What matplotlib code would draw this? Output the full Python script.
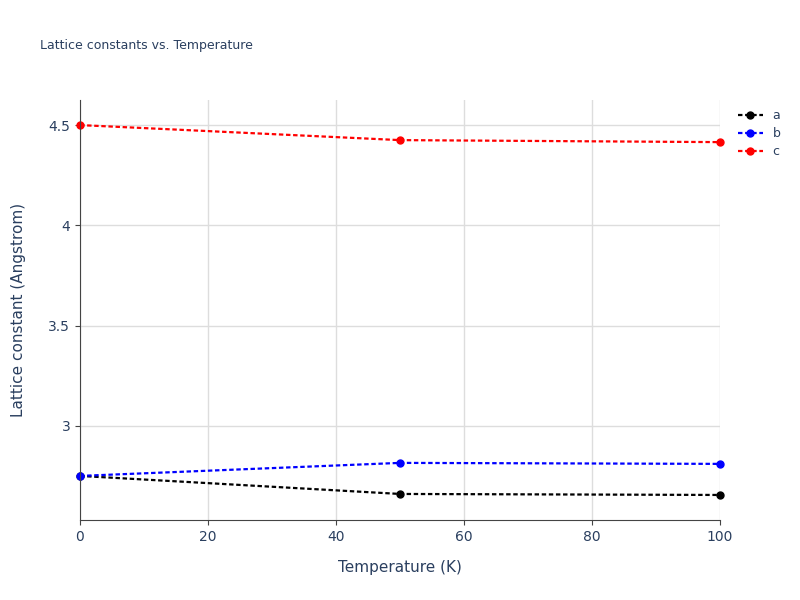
import matplotlib
matplotlib.use("Agg")
import matplotlib.pyplot as plt

temps = [0, 50, 100]
a_vals = [2.75, 2.66, 2.655]
b_vals = [2.75, 2.815, 2.81]
c_vals = [4.5, 4.425, 4.415]
series = [("a", a_vals, "black"), ("b", b_vals, "blue"), ("c", c_vals, "red")]

fig = plt.figure(figsize=(8, 6), dpi=100)
ax = fig.add_axes([0.1, 0.1333, 0.8, 0.7])
for name, vals, col in series:
    ax.plot(temps, vals, ls=(0, (2, 1.2)), lw=1.6, color=col, marker="o", ms=5, label=name, clip_on=False)
ax.set_xlim(0, 100)
ax.set_ylim(2.53, 4.625)
ax.set_xticks([0, 20, 40, 60, 80, 100])
ax.set_yticks([3, 3.5, 4, 4.5])
ax.set_yticklabels(["3", "3.5", "4", "4.5"])
ax.grid(color="#dddddd", lw=1)
ax.set_axisbelow(True)
for s in ["top", "right"]:
    ax.spines[s].set_visible(False)
for s in ["left", "bottom"]:
    ax.spines[s].set_color("#444444")
ax.tick_params(colors="#444444", labelcolor="#2a3f5f", labelsize=10)
ax.set_xlabel("Temperature (K)", color="#2a3f5f", fontsize=11, labelpad=12)
ax.set_ylabel("Lattice constant (Angstrom)", color="#2a3f5f", fontsize=11, labelpad=16)
fig.text(0.05, 0.918, "Lattice constants vs. Temperature", color="#2a3f5f", fontsize=9)
ax.legend(loc="upper left", bbox_to_anchor=(1.01, 1.005), frameon=False, fontsize=9, labelcolor="#2a3f5f", handlelength=2, labelspacing=0.4)
fig.savefig("out.png")
